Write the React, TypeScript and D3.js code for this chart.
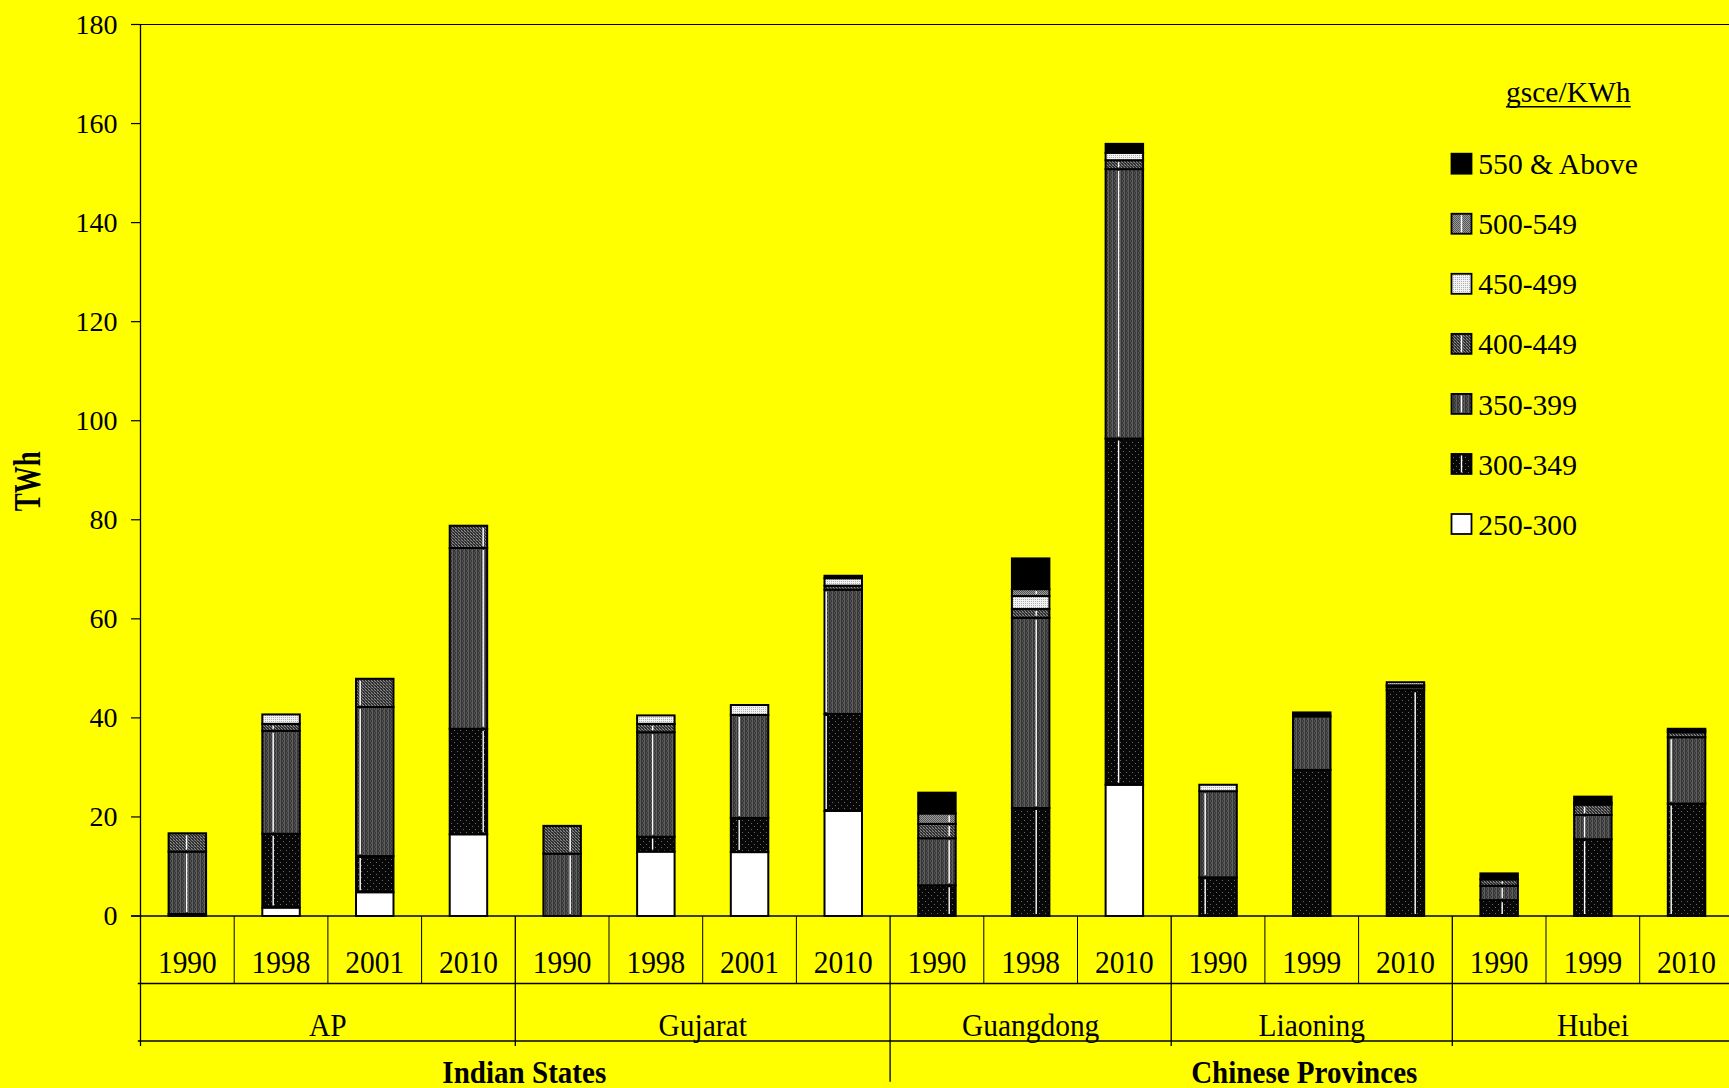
import { useEffect } from "react";
import * as d3 from "d3";

// x axis: one bar per state-year
const YEARS = ["1990", "1998", "2001", "2010", "1990", "1998", "2001", "2010", "1990", "1998", "2010", "1990", "1999", "2010", "1990", "1999", "2010"];
const STATES = ["AP", "Gujarat", "Guangdong", "Liaoning", "Hubei"];
const STATE_YEARS = [4, 4, 3, 3, 3];
const REGIONS = ["Indian States", "Chinese Provinces"];
const REGION_STATES = [2, 3];

// heat-rate bands (gsce/KWh), bottom of the stack first
const SERIES = ["250-300", "300-349", "350-399", "400-449", "450-499", "500-549", "550 & Above"];

// TWh generated in each band
const TWH_250 = [0, 1.7, 4.8, 16.5, 0, 13.0, 12.9, 21.2, 0, 0, 26.5, 0, 0, 0, 0, 0, 0];
const TWH_300 = [0.4, 14.9, 7.3, 21.3, 0, 3.0, 6.9, 19.6, 6.2, 21.8, 69.9, 7.8, 29.5, 45.6, 3.2, 15.5, 22.7];
const TWH_350 = [12.6, 20.8, 30.1, 36.5, 12.6, 21.1, 20.8, 25.1, 9.5, 38.4, 54.4, 17.4, 10.8, 0.6, 2.9, 4.9, 13.4];
const TWH_400 = [3.7, 1.4, 5.7, 4.5, 5.6, 1.7, 0, 0.8, 2.9, 1.8, 1.8, 0, 0, 0.4, 1.3, 2.1, 1.0];
const TWH_450 = [0, 1.9, 0, 0, 0, 1.7, 2.0, 1.5, 0, 2.6, 1.5, 1.3, 0, 0.6, 0, 0.4, 0.4];
const TWH_500 = [0, 0, 0, 0, 0, 0, 0, 0, 2.1, 1.4, 0, 0, 0, 0, 0, 0, 0];
const TWH_550 = [0, 0, 0, 0, 0, 0, 0, 0.5, 4.2, 6.2, 1.8, 0, 0.8, 0, 1.2, 1.2, 0.3];

const Y_TICKS = [0, 20, 40, 60, 80, 100, 120, 140, 160, 180];

const W = 1729;
const H = 1088;
const LEFT = 140.5;
const STEP = 93.7;
const BASE = 916;
const TOP = 24.5;
const YEAR_ROW = 983.5;
const STATE_ROW = 1041;
const FONT = "'Liberation Serif', 'Times New Roman', serif";
const FILLS = ["#ffffff", "url(#p300)", "url(#p350)", "url(#p400)", "url(#p450)", "url(#p500)", "#000000"];
const SHEENED = new Set([1, 2, 3, 5]);
// the old print driver left a thin white streak inside patterned bars
const SHEEN = [-0.75, -7.35, -13.55, 16.25, 10.05];

function Label(props: { x: number; y: number; text: string; size: number; bold?: boolean; sx?: number; anchor?: string }) {
  const { x, y, text, size, bold, sx = 1, anchor = "middle" } = props;
  return (
    <text
      transform={`translate(${x},${y}) scale(${sx},1)`}
      textAnchor={anchor}
      fontSize={size}
      fontWeight={bold ? "bold" : "normal"}
      fontFamily={FONT}
      fill="#000"
    >
      {text}
    </text>
  );
}

export default function App() {
  useEffect(() => {
    document.body.style.margin = "0";
    document.body.style.background = "#ffff00";
    document.body.style.overflow = "hidden";
  }, []);

  const n = YEARS.length;
  const right = LEFT + STEP * n;
  const x = d3.scaleBand<number>().domain(d3.range(n)).range([LEFT, right]).padding(0);
  const y = d3.scaleLinear().domain([0, 180]).range([BASE, TOP]);
  const edge = (k: number) => LEFT + k * x.step();
  const barW = x.bandwidth() * 0.4;

  const values = [TWH_250, TWH_300, TWH_350, TWH_400, TWH_450, TWH_500, TWH_550];
  const rows = YEARS.map((_, i) => {
    const r: Record<string, number> = {};
    SERIES.forEach((s, k) => (r[s] = values[k][i]));
    return r;
  });
  const layers = d3.stack<Record<string, number>>().keys(SERIES)(rows);

  const stateEdges = [0, ...Array.from(d3.cumsum(STATE_YEARS))];
  const regionEdges = [0, ...Array.from(d3.cumsum(REGION_STATES))].map((k) => stateEdges[k]);
  const isStateEdge = (k: number) => stateEdges.includes(k);
  const isRegionEdge = (k: number) => regionEdges.includes(k) && k > 0 && k < n;

  const legendX = 1451.5;
  const legendY = d3.scaleLinear().domain([0, 1]).range([163.7, 223.75]);
  const legendOrder = SERIES.map((_, k) => SERIES.length - 1 - k);

  return (
    <svg width={W} height={H} style={{ display: "block", background: "#ffff00" }}>
      <defs>
        <pattern id="p300" width="6" height="6" patternUnits="userSpaceOnUse">
          <rect width="6" height="6" fill="#080808" />
          <rect x="1" y="1" width="1" height="1" fill="#6a6a6a" />
          <rect x="4" y="4" width="1" height="1" fill="#6a6a6a" />
        </pattern>
        <pattern id="p350" width="4" height="4" patternUnits="userSpaceOnUse">
          <rect width="4" height="4" fill="#363636" />
          <rect x="0" y="0" width="1" height="4" fill="#5e5e5e" />
          <rect x="2" y="0" width="1" height="2" fill="#545454" />
          <rect x="3" y="2" width="1" height="2" fill="#545454" />
        </pattern>
        <pattern id="p400" width="3" height="3" patternUnits="userSpaceOnUse">
          <rect width="3" height="3" fill="#2e2e2e" />
          <rect x="0" y="0" width="1" height="1" fill="#8a8a8a" />
          <rect x="1" y="1" width="1" height="1" fill="#6e6e6e" />
          <rect x="2" y="2" width="1" height="1" fill="#8a8a8a" />
          <rect x="2" y="0" width="1" height="1" fill="#5a5a5a" />
        </pattern>
        <pattern id="p450" width="2" height="2" patternUnits="userSpaceOnUse">
          <rect width="2" height="2" fill="#f2f2f2" />
          <rect x="1" y="1" width="1" height="1" fill="#b0b0b0" />
        </pattern>
        <pattern id="p500" width="2" height="2" patternUnits="userSpaceOnUse">
          <rect width="2" height="2" fill="#9a9a9a" />
          <rect x="0" y="0" width="1" height="1" fill="#555" />
          <rect x="1" y="1" width="1" height="1" fill="#555" />
        </pattern>
      </defs>

      {/* frame and y axis */}
      <line x1={131} x2={right} y1={TOP} y2={TOP} stroke="#000" strokeWidth={1} />
      <line x1={LEFT} x2={LEFT} y1={TOP} y2={1046} stroke="#000" strokeWidth={1.3} />
      {Y_TICKS.map((t) => (
        <g key={t}>
          <line x1={131} x2={LEFT} y1={y(t)} y2={y(t)} stroke="#000" strokeWidth={1.2} />
          <Label x={117.5} y={y(t) + 9.3} text={String(t)} size={28} anchor="end" />
        </g>
      ))}
      <text
        transform={`translate(40,481.3) rotate(-90)`}
        textAnchor="middle"
        fontSize={38}
        fontWeight="bold"
        fontFamily={FONT}
        textLength={60}
        lengthAdjust="spacingAndGlyphs"
      >
        TWh
      </text>

      {/* stacked bars */}
      {layers.map((layer, k) =>
        layer.map((d, i) => {
          if (d[1] - d[0] <= 0) return null;
          const cx = (x(i) as number) + x.bandwidth() / 2;
          return (
            <rect
              key={`${k}-${i}`}
              x={cx - barW / 2}
              y={y(d[1])}
              width={barW}
              height={y(d[0]) - y(d[1])}
              fill={FILLS[k]}
              stroke="#000"
              strokeWidth={2}
            />
          );
        })
      )}
      {layers.map((layer, k) =>
        SHEENED.has(k)
          ? layer.map((d, i) => {
              const off = (SHEEN[i % 5] - 0.5 * i) * (x.step() / 93.7);
              if (Math.abs(off) > barW / 2 - 1.5) return null;
              const y1 = y(d[1]) + 2;
              const y2 = y(d[0]) - 2;
              if (y2 - y1 < 1) return null;
              const sx = (x(i) as number) + x.bandwidth() / 2 + off;
              return <line key={`s${k}-${i}`} x1={sx} x2={sx} y1={y1} y2={y2} stroke="#fff" strokeWidth={1.4} />;
            })
          : null
      )}

      {/* category axis */}
      <line x1={131} x2={right} y1={BASE} y2={BASE} stroke="#000" strokeWidth={1.3} />
      <line x1={137.8} x2={right} y1={YEAR_ROW} y2={YEAR_ROW} stroke="#000" strokeWidth={1.7} />
      <line x1={137.8} x2={right} y1={STATE_ROW} y2={STATE_ROW} stroke="#000" strokeWidth={1.7} />
      {d3.range(1, n + 1).map((k) => {
        const bottom = isRegionEdge(k) ? 1081.7 : isStateEdge(k) ? 1046 : YEAR_ROW;
        return <line key={`e${k}`} x1={edge(k)} x2={edge(k)} y1={BASE} y2={bottom} stroke="#000" strokeWidth={isStateEdge(k) ? 1.3 : 1} />;
      })}
      {YEARS.map((yr, i) => (
        <Label key={`y${i}`} x={(x(i) as number) + x.bandwidth() / 2} y={973.3} text={yr} size={32} sx={0.92} />
      ))}
      {STATES.map((s, j) => (
        <Label key={s} x={(edge(stateEdges[j]) + edge(stateEdges[j + 1])) / 2} y={1036} text={s} size={32} sx={0.92} />
      ))}
      {REGIONS.map((r, j) => (
        <Label
          key={r}
          x={(edge(regionEdges[j]) + edge(regionEdges[j + 1])) / 2 + (j === 0 ? 9 : -7.5)}
          y={1083.3}
          text={r}
          size={30.6}
          bold
          sx={0.95}
        />
      ))}

      {/* legend */}
      <Label x={1568.3} y={101.7} text="gsce/KWh" size={29.5} />
      <line x1={1506} x2={1630.7} y1={106.7} y2={106.7} stroke="#000" strokeWidth={1.5} />
      {legendOrder.map((k, row) => {
        const cy = legendY(row);
        return (
          <g key={SERIES[k]}>
            <rect x={legendX} y={cy - 10} width={20} height={20} fill={FILLS[k]} stroke="#000" strokeWidth={1.8} />
            {SHEENED.has(k) && (
              <line x1={legendX + 10} x2={legendX + 10} y1={cy - 8.5} y2={cy + 8.5} stroke="#fff" strokeWidth={1.4} />
            )}
            <Label x={1478.3} y={cy + 10.6} text={SERIES[k]} size={29.6} anchor="start" />
          </g>
        );
      })}
    </svg>
  );
}
